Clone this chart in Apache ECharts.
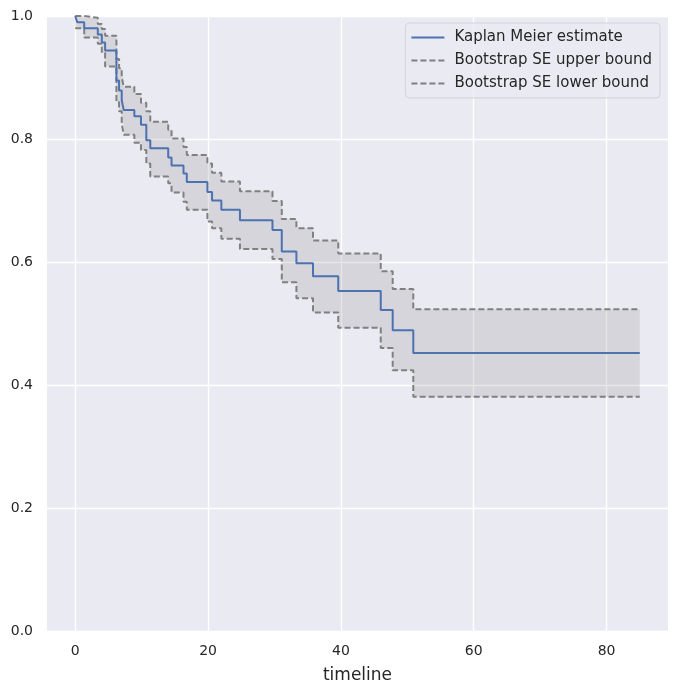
<!DOCTYPE html>
<html>
<head>
<meta charset="utf-8">
<script src="https://cdn.jsdelivr.net/npm/echarts@6/dist/echarts.min.js"></script>
<style>
  html, body { margin: 0; padding: 0; background: #fff; }
  #chart { width: 677px; height: 693px; }
</style>
</head>
<body>
<div id="chart"></div>
<script>
// event times (timeline)
var times = [0, 0.3, 1.35, 3.4, 4.0, 4.5, 6.2, 6.6, 7.0, 7.3, 8.9, 9.9, 10.7, 11.3, 14.0, 14.5, 16.3, 16.8,
  19.9, 20.6, 22.0, 24.8, 29.7, 31.1, 33.3, 35.8, 39.6, 46.0, 47.8, 50.9, 85]

// Kaplan Meier estimate
var kmValues = [1.0, 0.990, 0.980, 0.970, 0.957, 0.944, 0.895, 0.879, 0.863, 0.847, 0.837, 0.823, 0.798, 0.785, 0.770, 0.757, 0.744, 0.730,
  0.714, 0.700, 0.685, 0.668, 0.652, 0.617, 0.598, 0.577, 0.553, 0.522, 0.489, 0.452, 0.452]

// bootstrap bounds
var upperValues = [1.0, 1.0, 0.997, 0.987, 0.979, 0.968, 0.930, 0.915, 0.900, 0.885, 0.873, 0.859, 0.845, 0.828, 0.815, 0.801, 0.787, 0.774,
  0.760, 0.745, 0.731, 0.715, 0.699, 0.670, 0.655, 0.635, 0.614, 0.585, 0.556, 0.523, 0.523]
var lowerValues = [0.980, 0.980, 0.965, 0.955, 0.940, 0.918, 0.860, 0.845, 0.825, 0.807, 0.794, 0.782, 0.760, 0.739, 0.728, 0.713, 0.698, 0.685,
  0.666, 0.655, 0.638, 0.621, 0.605, 0.567, 0.541, 0.518, 0.493, 0.460, 0.424, 0.381, 0.381]

var xTicks = [0, 20, 40, 60, 80]

function pairs (ys) {
  return times.map(function (t, i) { return [t, ys[i]] })
}

var textColor = '#262626'
var font = 'DejaVu Sans'

// shaded area between the bounds, drawn as one step polygon
function renderBand (params, api) {
  var top = []
  var bottom = []
  for (var i = 0; i < times.length; i++) {
    var next = i < times.length - 1 ? times[i + 1] : times[i]
    top.push(api.coord([times[i], upperValues[i]]))
    top.push(api.coord([next, upperValues[i]]))
    bottom.push(api.coord([times[i], lowerValues[i]]))
    bottom.push(api.coord([next, lowerValues[i]]))
  }
  var points = top.concat(bottom.reverse())
  return {
    type: 'polygon',
    shape: { points: points },
    style: { fill: 'rgba(128,128,128,0.2)' }
  }
}

var option = {
  animation: false,
  backgroundColor: '#ffffff',
  grid: {
    left: 47,
    right: 9,
    top: 16,
    bottom: 62,
    show: true,
    backgroundColor: '#EAEAF2',
    borderWidth: 0
  },
  legend: {
    orient: 'vertical',
    right: 17,
    top: 23,
    itemWidth: 33,
    itemHeight: 14,
    itemGap: 8,
    padding: [7, 8, 7, 5],
    backgroundColor: 'rgba(234,234,242,0.8)',
    borderColor: '#d3d3d8',
    borderWidth: 1,
    borderRadius: 4,
    itemStyle: { opacity: 0 },
    textStyle: { color: textColor, fontFamily: font, fontSize: 15, padding: [0, 0, 0, 5] },
    data: ['Kaplan Meier estimate', 'Bootstrap SE upper bound', 'Bootstrap SE lower bound']
  },
  xAxis: {
    type: 'value',
    min: -4.25,
    max: 89.25,
    name: 'timeline',
    nameLocation: 'middle',
    nameGap: 36,
    nameTextStyle: { color: textColor, fontFamily: font, fontSize: 17 },
    axisLine: { show: false },
    axisTick: { show: false, customValues: xTicks },
    axisLabel: {
      customValues: xTicks,
      margin: 13,
      color: textColor,
      fontFamily: font,
      fontSize: 14
    },
    splitLine: { show: true, lineStyle: { color: '#ffffff', width: 1.4 } }
  },
  yAxis: {
    type: 'value',
    min: 0,
    max: 1,
    interval: 0.2,
    axisLine: { show: false },
    axisTick: { show: false },
    axisLabel: {
      margin: 14,
      color: textColor,
      fontFamily: font,
      fontSize: 14,
      formatter: function (v) { return v.toFixed(1) }
    },
    splitLine: { show: true, lineStyle: { color: '#ffffff', width: 1.4 } }
  },
  series: [
    {
      name: 'band',
      type: 'custom',
      silent: true,
      renderItem: renderBand,
      data: [0],
      z: 1
    },
    {
      name: 'Bootstrap SE upper bound',
      type: 'line',
      step: 'end',
      symbol: 'none',
      lineStyle: { color: '#808080', width: 2, type: [6, 3] },
      itemStyle: { color: '#808080' },
      data: pairs(upperValues),
      z: 3
    },
    {
      name: 'Bootstrap SE lower bound',
      type: 'line',
      step: 'end',
      symbol: 'none',
      lineStyle: { color: '#808080', width: 2, type: [6, 3] },
      itemStyle: { color: '#808080' },
      data: pairs(lowerValues),
      z: 3
    },
    {
      name: 'Kaplan Meier estimate',
      type: 'line',
      step: 'end',
      symbol: 'none',
      lineStyle: { color: '#4C72B0', width: 2 },
      itemStyle: { color: '#4C72B0' },
      data: pairs(kmValues),
      z: 4
    }
  ]
}

echarts.init(document.getElementById('chart')).setOption(option)
</script>
</body>
</html>
